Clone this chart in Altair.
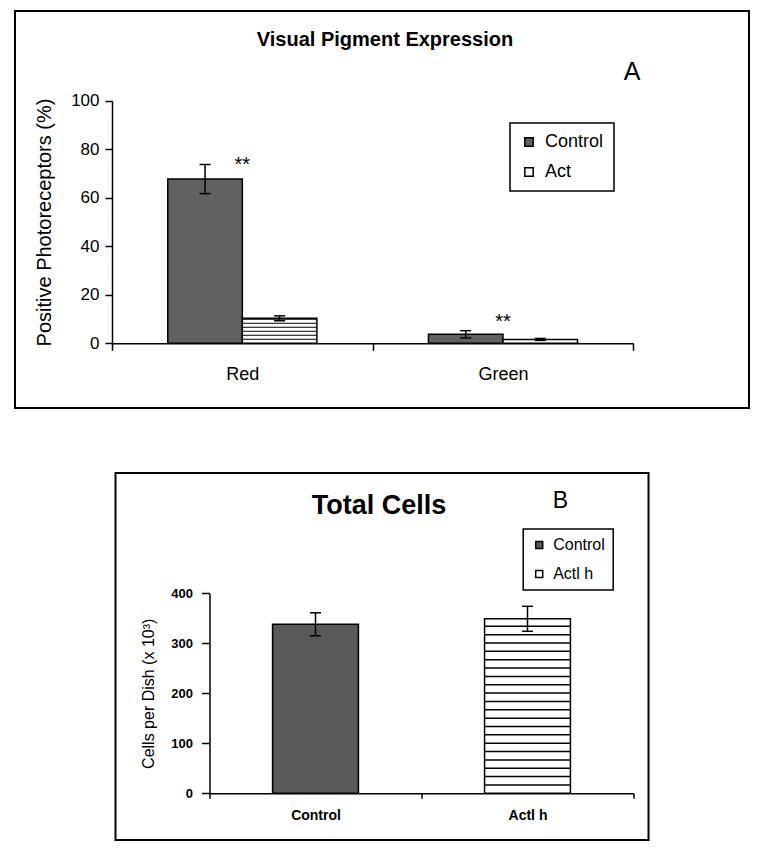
import altair as alt
import pandas as pd

FONT = "Liberation Sans"

# ---------------- Panel A data ----------------
a_categories = ["Red", "Green"]
a_groups = ["Control", "Act"]
a_control = [67.7, 3.7]
a_control_err = [6.0, 1.5]
a_act = [10.3, 1.6]
a_act_err = [1.0, 0.4]
a_star_levels = [75.6, 11.0]
a_y_ticks = [0, 20, 40, 60, 80, 100]

# ---------------- Panel B data ----------------
b_categories = ["Control", "Actl h"]
b_values = [338, 349]
b_errors = [23, 25]
b_y_ticks = [0, 100, 200, 300, 400]

panel_labels = ["A", "B"]
panel_titles = ["Visual Pigment Expression", "Total Cells"]

# ---------------- tables ----------------
rows = []
for i, c in enumerate(a_categories):
    rows.append({"cat": c, "group": a_groups[0], "value": a_control[i], "err": a_control_err[i]})
    rows.append({"cat": c, "group": a_groups[1], "value": a_act[i], "err": a_act_err[i]})
dfA = pd.DataFrame(rows)
dfA["lo"] = dfA["value"] - dfA["err"]
dfA["hi"] = dfA["value"] + dfA["err"]
starsA = pd.DataFrame({"cat": a_categories, "star": a_star_levels, "txt": ["**"] * len(a_categories)})

dfB = pd.DataFrame({"cat": b_categories, "value": b_values, "err": b_errors})
dfB["lo"] = dfB["value"] - dfB["err"]
dfB["hi"] = dfB["value"] + dfB["err"]

CTRL_A = "#616161"
CTRL_B = "#595959"

# ---------------- Panel A ----------------
WA, HA = 734, 397
axA_x = alt.Axis(title=None, orient="bottom", offset=-64.7, tickBand="extent", tickSize=7,
                 labelPadding=15, labelAngle=0, labelFontSize=18, labelFont=FONT,
                 labelColor="black", domainColor="black", tickColor="black",
                 domainWidth=1.5, tickWidth=1.5, grid=False)
xA = alt.X("cat:N", sort=a_categories,
           scale=alt.Scale(domain=a_categories, range=[97, 618.3], paddingInner=0, paddingOuter=0),
           axis=axA_x)
xoffA = alt.XOffset("group:N", sort=a_groups,
                    scale=alt.Scale(domain=a_groups, paddingInner=0, paddingOuter=0.748))
axA_y = alt.Axis(title="Positive Photoreceptors (%)", values=a_y_ticks, offset=-97, tickSize=7,
                 labelPadding=6, labelFontSize=17, labelFont=FONT, labelColor="black",
                 titleFontSize=20, titleFontWeight="normal", titleFont=FONT, titleColor="black",
                 titlePadding=16, domainColor="black", tickColor="black",
                 domainWidth=1.5, tickWidth=1.5, grid=False)
scA_y = alt.Scale(domain=[0, 100], range=[332.3, 89.7], nice=False, zero=True)


def yA(field):
    return alt.Y(f"{field}:Q", scale=scA_y, axis=axA_y)


fillA = alt.Fill("group:N", sort=a_groups,
                 scale=alt.Scale(domain=a_groups, range=[CTRL_A, "white"]),
                 legend=alt.Legend(orient="none", legendX=495, legendY=112, title=None,
                                   symbolType="square", symbolSize=70,
                                   symbolStrokeColor="black", symbolStrokeWidth=1.5,
                                   labelFontSize=18, labelFont=FONT, labelColor="black",
                                   strokeColor="black", fillColor="white", padding=10,
                                   rowPadding=12, labelOffset=7))

baseA = alt.Chart(dfA)
barsA = baseA.mark_bar(stroke="black", strokeWidth=1.5).encode(
    x=xA, xOffset=xoffA, y=yA("value"), fill=fillA)
stepA = 1.65
stripesA = baseA.transform_filter(f"datum.group == '{a_groups[1]}'").transform_calculate(
    stripe=f"sequence({stepA}, datum.value, {stepA})").transform_flatten(["stripe"]).mark_tick(
    orient="horizontal", color="black", thickness=1, size=74, opacity=1).encode(
    x=xA, xOffset=xoffA, y=yA("stripe"))
errA = baseA.mark_rule(color="black", strokeWidth=1.5).encode(
    x=xA, xOffset=xoffA, y=yA("lo"), y2="hi:Q")
capsA = baseA.transform_fold(["lo", "hi"], as_=["end", "cap"]).mark_tick(
    orient="horizontal", color="black", thickness=1.5, size=11, opacity=1).encode(
    x=xA, xOffset=xoffA, y=yA("cap"))
starA = alt.Chart(starsA).mark_text(fontSize=20, font=FONT, baseline="middle", dy=5,
                                    color="black").encode(x=xA, y=yA("star"), text="txt:N")
labA = alt.Chart(pd.DataFrame({"t": [panel_labels[0]]})).mark_text(
    fontSize=25, font=FONT, align="center", baseline="alphabetic", color="black").encode(
    x=alt.value(617), y=alt.value(69), text="t:N")

panelA = alt.layer(barsA, stripesA, errA, capsA, starA, labA).properties(
    width=WA, height=HA,
    title=alt.TitleParams(panel_titles[0], fontSize=20, font=FONT, fontWeight="bold",
                          anchor="middle", frame="group", dx=3, offset=-39, color="black"))

# ---------------- Panel B ----------------
WB, HB = 533, 367
axB_x = alt.Axis(title=None, orient="bottom", offset=-46.7, tickBand="extent", tickSize=5,
                 labelPadding=10, labelAngle=0, labelFontSize=14, labelFontWeight="bold",
                 labelFont=FONT, labelColor="black", domainColor="black", tickColor="black",
                 domainWidth=1.5, tickWidth=1.5, grid=False)
xB = alt.X("cat:N", sort=b_categories,
           scale=alt.Scale(domain=b_categories, range=[94, 518], paddingInner=0, paddingOuter=0),
           axis=axB_x)
axB_y = alt.Axis(title="Cells per Dish (x 10³)", values=b_y_ticks, offset=-94, tickSize=8,
                 labelPadding=9, labelFontSize=13, labelFontWeight="bold", labelFont=FONT,
                 labelColor="black", titleFontSize=16, titleFontWeight="normal", titleFont=FONT,
                 titleColor="black", titlePadding=14, domainColor="black", tickColor="black",
                 domainWidth=1.5, tickWidth=1.5, grid=False)
scB_y = alt.Scale(domain=[0, 400], range=[320.3, 120.3], nice=False, zero=True)


def yB(field):
    return alt.Y(f"{field}:Q", scale=scB_y, axis=axB_y)


fillB = alt.Fill("cat:N", sort=b_categories,
                 scale=alt.Scale(domain=b_categories, range=[CTRL_B, "white"]),
                 legend=alt.Legend(orient="none", legendX=407.7, legendY=56, title=None,
                                   symbolType="square", symbolSize=49,
                                   symbolStrokeColor="black", symbolStrokeWidth=1.5,
                                   labelFontSize=16, labelFont=FONT, labelColor="black",
                                   strokeColor="black", fillColor="white", padding=8,
                                   rowPadding=13, labelOffset=6))

baseB = alt.Chart(dfB)
barsB = baseB.mark_bar(stroke="black", strokeWidth=1.5, width=alt.RelativeBandSize(0.405)).encode(
    x=xB, y=yB("value"), fill=fillB)
stepB = 16.7
stripesB = baseB.transform_filter(f"datum.cat == '{b_categories[1]}'").transform_calculate(
    stripe=f"sequence({stepB}, datum.value, {stepB})").transform_flatten(["stripe"]).mark_tick(
    orient="horizontal", color="black", thickness=1.5, size=85, opacity=1).encode(
    x=xB, y=yB("stripe"))
errB = baseB.mark_rule(color="black", strokeWidth=1.5).encode(x=xB, y=yB("lo"), y2="hi:Q")
capsB = baseB.transform_fold(["lo", "hi"], as_=["end", "cap"]).mark_tick(
    orient="horizontal", color="black", thickness=1.5, size=11, opacity=1).encode(
    x=xB, y=yB("cap"))
labB = alt.Chart(pd.DataFrame({"t": [panel_labels[1]]})).mark_text(
    fontSize=23, font=FONT, align="center", baseline="alphabetic", color="black").encode(
    x=alt.value(445), y=alt.value(35), text="t:N")

panelB = alt.layer(barsB, stripesB, errB, capsB, labB).properties(
    width=WB, height=HB,
    title=alt.TitleParams(panel_titles[1], fontSize=27, font=FONT, fontWeight="bold",
                          anchor="middle", frame="group", dx=-3, offset=-47, color="black"))

chart = alt.vconcat(panelA, panelB, spacing=63, center=True).resolve_scale(
    fill="independent", x="independent", y="independent").resolve_legend(
    fill="independent").properties(
    padding={"left": 6, "top": 2, "right": 5, "bottom": 5}).configure_view(
    stroke="black", strokeWidth=2, fill="white").configure_legend(strokeWidth=1.5)

chart.save("out.html", embed_options={"renderer": "svg", "actions": False})
